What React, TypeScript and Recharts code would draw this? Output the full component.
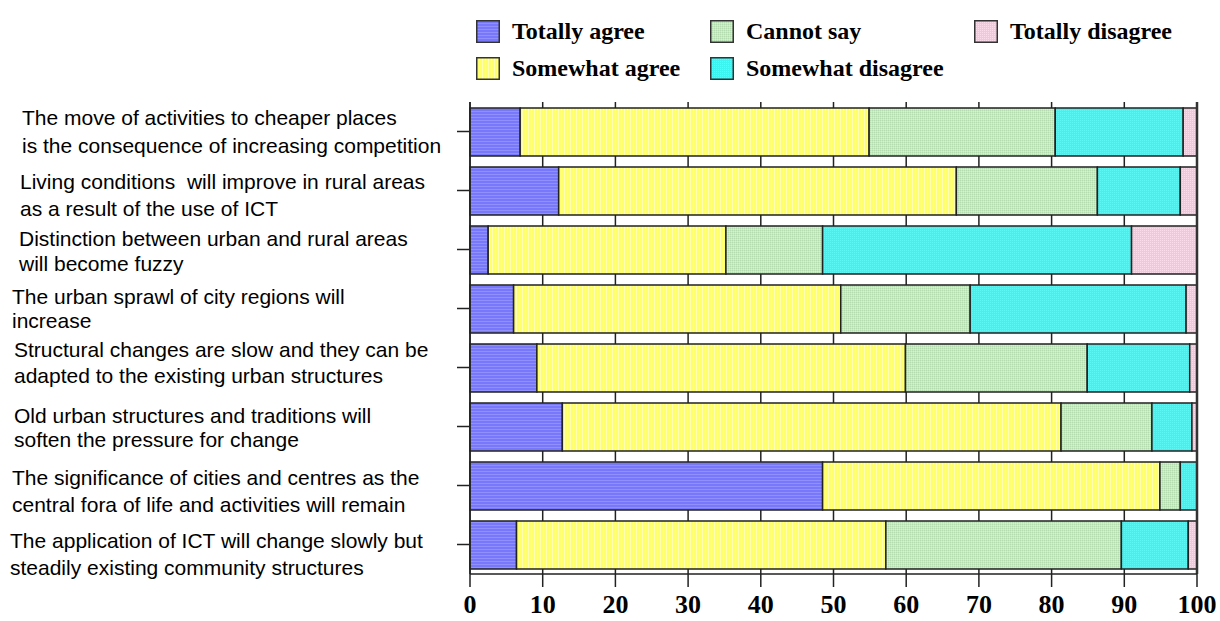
import React from "react"
import { BarChart, Bar, XAxis, YAxis, CartesianGrid, ReferenceLine } from "recharts"

// statements (top to bottom)
const statements = [
  "The move of activities to cheaper places\nis the consequence of increasing competition",
  "Living conditions  will improve in rural areas\nas a result of the use of ICT",
  "Distinction between urban and rural areas\nwill become fuzzy",
  "The urban sprawl of city regions will\nincrease",
  "Structural changes are slow and they can be\nadapted to the existing urban structures",
  "Old urban structures and traditions will\nsoften the pressure for change",
  "The significance of cities and centres as the\ncentral fora of life and activities will remain",
  "The application of ICT will change slowly but\nsteadily existing community structures",
]

// shares in %, same order as statements
const totallyAgree = [6.9, 12.2, 2.5, 6.0, 9.2, 12.7, 48.5, 6.4]
const somewhatAgree = [48.0, 54.7, 32.7, 45.0, 50.7, 68.6, 46.4, 50.8]
const cannotSay = [25.6, 19.4, 13.3, 17.8, 25.0, 12.5, 2.8, 32.4]
const somewhatDisagree = [17.6, 11.4, 42.5, 29.7, 14.1, 5.5, 2.3, 9.2]
const totallyDisagree = [1.9, 2.3, 9.0, 1.5, 1.0, 0.7, 0, 1.2]

const xTicks = [0, 10, 20, 30, 40, 50, 60, 70, 80, 90, 100]

const series = [
  { key: "ta", name: "Totally agree", pattern: "pTA" },
  { key: "sa", name: "Somewhat agree", pattern: "pSA" },
  { key: "cs", name: "Cannot say", pattern: "pCS" },
  { key: "sd", name: "Somewhat disagree", pattern: "pSD" },
  { key: "td", name: "Totally disagree", pattern: "pTD" },
]

// label layout: left edge and offsets of the two lines from the bar centre
const LABEL_X = [22, 20, 19, 12, 14, 14, 12, 10]
const LABEL_DY = [
  [-15, 13.5],
  [-10, 17],
  [-12, 13],
  [-12.5, 11],
  [-19, 7.5],
  [-11.5, 12],
  [-9, 18],
  [-4.5, 22],
]

const data = statements.map((label, i) => ({
  label,
  ta: totallyAgree[i],
  sa: somewhatAgree[i],
  cs: cannotSay[i],
  sd: somewhatDisagree[i],
  td: totallyDisagree[i],
}))

const Patterns = () => (
  <svg width={0} height={0} style={{ position: "absolute" }}>
    <defs>
      <pattern id="pTA" patternUnits="userSpaceOnUse" width={4} height={3}>
        <rect width={4} height={3} fill="#7878fb" />
        <rect width={4} height={1} fill="#9090ff" />
      </pattern>
      <pattern id="pSA" patternUnits="userSpaceOnUse" width={3} height={4}>
        <rect width={3} height={4} fill="#ffff6c" />
        <rect width={1} height={4} fill="#ffffb4" />
      </pattern>
      <pattern id="pCS" patternUnits="userSpaceOnUse" width={2} height={2}>
        <rect width={2} height={2} fill="#c8e8c0" />
        <rect width={1} height={1} fill="#b4dcb0" />
        <rect x={1} y={1} width={1} height={1} fill="#d8f0d0" />
      </pattern>
      <pattern id="pSD" patternUnits="userSpaceOnUse" width={2} height={2}>
        <rect width={2} height={2} fill="#3cf4f0" />
        <rect width={1} height={1} fill="#5cf8f6" />
      </pattern>
      <pattern id="pTD" patternUnits="userSpaceOnUse" width={2} height={2}>
        <rect width={2} height={2} fill="#f8c4da" />
        <rect width={1} height={1} fill="#fcdcea" />
      </pattern>
    </defs>
  </svg>
)

const StatementTick = (props: any) => {
  const { y, payload, index } = props
  const lines = String(payload.value).split("\n")
  const x = LABEL_X[index]
  return (
    <text
      x={x}
      y={y}
      fontSize={21}
      fontFamily="'Liberation Sans', Arial, sans-serif"
      fill="#000"
      dominantBaseline="central"
      style={{ whiteSpace: "pre" }}>
      {lines.map((ln, k) => (
        <tspan key={k} x={x} y={y + LABEL_DY[index][k]}>
          {ln}
        </tspan>
      ))}
    </text>
  )
}

// legend cells: row, column
const legendPos = [
  { left: 476, top: 20 },
  { left: 476, top: 57 },
  { left: 710, top: 20 },
  { left: 710, top: 57 },
  { left: 974, top: 20 },
]

const LegendBox = () => (
  <div style={{ position: "absolute", left: 0, top: 0 }}>
    {series.map((s, i) => (
      <div
        key={s.key}
        style={{
          position: "absolute",
          left: legendPos[i].left,
          top: legendPos[i].top,
          display: "flex",
          alignItems: "center",
          whiteSpace: "nowrap",
        }}>
        <svg width={24} height={23} style={{ display: "block" }}>
          <rect x={0.75} y={0.75} width={22.5} height={21.5} fill={`url(#${s.pattern})`} stroke="#333" strokeWidth={1.5} />
        </svg>
        <span
          style={{
            marginLeft: 12,
            fontFamily: "'Liberation Serif', 'Times New Roman', serif",
            fontWeight: "bold",
            fontSize: 24,
            lineHeight: "23px",
            color: "#000",
          }}>
          {s.name}
        </span>
      </div>
    ))}
  </div>
)

export default function App() {
  return (
    <div style={{ position: "absolute", left: 0, top: 0, width: 1220, height: 621, background: "#fff", overflow: "hidden" }}>
      <Patterns />
      <LegendBox />
      <BarChart
        width={1220}
        height={621}
        layout="vertical"
        data={data}
        barSize={48}
        margin={{ top: 102, right: 23, bottom: 0, left: 0 }}>
        <CartesianGrid vertical horizontal={false} stroke="#222" strokeWidth={1.5} />
        <XAxis
          type="number"
          domain={[0, 100]}
          ticks={xTicks}
          interval={0}
          height={47}
          tickSize={13}
          tickMargin={8}
          axisLine={{ stroke: "#222", strokeWidth: 1.5 }}
          tickLine={{ stroke: "#222", strokeWidth: 1.5 }}
          tick={{
            fill: "#000",
            fontSize: 26,
            fontWeight: "bold",
            fontFamily: "'Liberation Serif', 'Times New Roman', serif",
          }}
        />
        <XAxis
          xAxisId="top"
          orientation="top"
          type="number"
          domain={[0, 100]}
          height={0}
          tick={false}
          tickLine={false}
          axisLine={{ stroke: "#222", strokeWidth: 1.5 }}
        />
        <YAxis
          type="category"
          dataKey="label"
          width={470}
          interval={0}
          tickSize={13}
          axisLine={{ stroke: "#222", strokeWidth: 1.5 }}
          tickLine={{ stroke: "#222", strokeWidth: 1.5 }}
          tick={<StatementTick />}
        />
        {series.map((s) => (
          <Bar
            key={s.key}
            dataKey={s.key}
            name={s.name}
            stackId="a"
            fill={`url(#${s.pattern})`}
            stroke="#222"
            strokeWidth={1.5}
            isAnimationActive={false}
          />
        ))}
        <ReferenceLine x={100} stroke="#333" strokeWidth={2.5} />
      </BarChart>
    </div>
  )
}
